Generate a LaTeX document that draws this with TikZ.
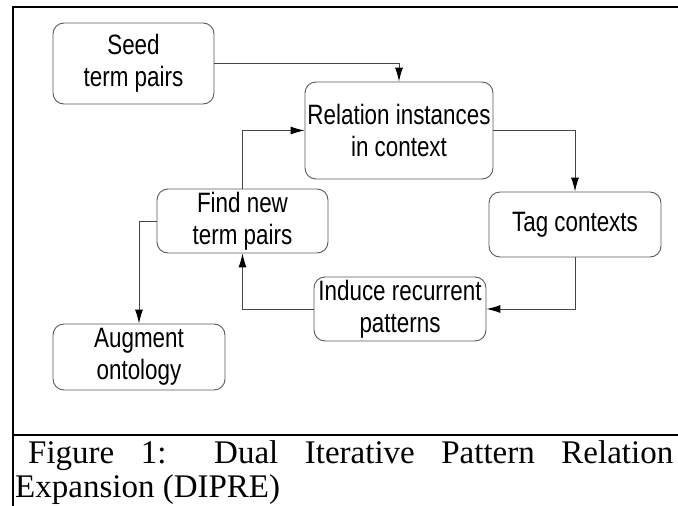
\documentclass[tikz,border=0pt]{standalone}
\usepackage{fontspec}
\setmainfont{Liberation Serif}
\newfontfamily\boxfont[FakeStretch=0.80]{Liberation Sans}
\usetikzlibrary{arrows.meta}

\begin{document}
\begin{tikzpicture}[x=1pt,y=-1pt,
    stage/.style={draw=gray!70!black,line width=0.9pt,rounded corners=11pt,
      align=center,inner sep=1pt,font=\boxfont\fontsize{28}{32}\selectfont},
    flow/.style={draw=gray!55!black,line width=1pt,
      -{Latex[length=14pt,width=8pt,color=black]}},
    captext/.style={anchor=base west,inner sep=0pt,font=\fontsize{33}{38}\selectfont}]
    \useasboundingbox (0,0) rectangle (678,506);
    % frame
    \draw[line width=2pt] (13,506) -- (13,7) -- (678,7);
    \draw[line width=2pt] (13,435) -- (678,435);
    % stages
    \node[stage,minimum width=161pt,minimum height=81pt] (seed) at (133.5,63.5) {Seed\\term pairs};
    \node[stage,minimum width=188pt,minimum height=97pt] (rel) at (399,130.5) {Relation instances\\in context};
    \node[stage,minimum width=172pt,minimum height=65pt] (tag) at (575,224.5) {Tag contexts};
    \node[stage,minimum width=171pt,minimum height=64pt] (find) at (242.5,221) {Find new\\term pairs};
    \node[stage,minimum width=172pt,minimum height=64pt] (induce) at (400,309) {Induce recurrent\\patterns};
    \node[stage,minimum width=172pt,minimum height=66pt] (augment) at (139,357) {Augment\\ontology};
    % connectors
    \draw[flow] (seed.east) -| (rel.north);
    \draw[flow] (rel.east) -| (tag.north);
    \draw[flow] (tag.south) |- (induce.east);
    \draw[flow] (induce.west) -| (find.south);
    \draw[flow] (find.north) |- (rel.west);
    \draw[flow] (find.west) -| (augment.north);
    % caption
    \node[captext] (capa) at (28,463) {\makebox[645pt][s]{Figure 1: Dual Iterative Pattern Relation}};
    \node[captext] (capb) at (15,497) {Expansion (DIPRE)};
\end{tikzpicture}
\end{document}
